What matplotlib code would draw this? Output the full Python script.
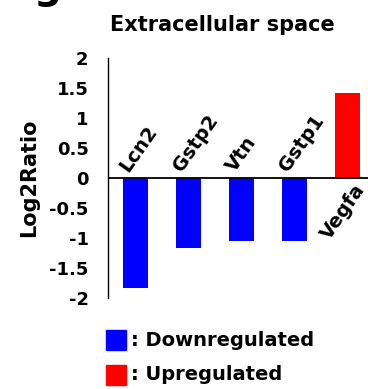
import numpy as np
import matplotlib
matplotlib.use("Agg")
import matplotlib.pyplot as plt
from matplotlib.patches import Rectangle

genes = ["Lcn2", "Gstp2", "Vtn", "Gstp1", "Vegfa"]
log2ratio = [-1.83, -1.16, -1.05, -1.05, 1.42]
yticks = [2, 1.5, 1, 0.5, 0, -0.5, -1, -1.5, -2]
ytick_labels = ["2", "1.5", "1", "0.5", "0", "-0.5", "-1", "-1.5", "-2"]
legend_labels = [": Downregulated", ": Upregulated"]

blue = "#0000ff"
red = "#ff0000"

plt.rcParams['font.family'] = ['DejaVu Sans']
plt.rcParams['font.weight'] = 'bold'

W, H = 368, 389
fig = plt.figure(figsize=(W / 100, H / 100), dpi=100)
ax = fig.add_axes([108 / W, (H - 298) / H, 1 - 108 / W, 240 / H])

x = np.arange(len(genes))
colors = [red if v > 0 else blue for v in log2ratio]
ax.bar(x, log2ratio, width=0.48, color=colors, zorder=2)
ax.axhline(0, color="black", lw=1.3, zorder=3)

ax.set_xlim(-0.52, 4.39)
ax.set_ylim(-2, 2)
ax.set_yticks(yticks)
ax.set_yticklabels(ytick_labels, fontsize=13, fontweight='bold')
ax.tick_params(axis='y', length=0, pad=14)
ax.set_xticks([])
for s in ["top", "right", "bottom"]:
    ax.spines[s].set_visible(False)
ax.spines["left"].set_linewidth(1.0)

# gene labels
for i, (g, v) in enumerate(zip(genes, log2ratio)):
    if v < 0:
        ax.text(i - 0.13, 0.08, g, rotation=55, rotation_mode='anchor',
                ha='left', va='baseline', fontsize=14, fontweight='bold')
    else:
        ax.text(i + 0.12, -0.05, g, rotation=55, rotation_mode='anchor',
                ha='right', va='top', fontsize=14, fontweight='bold')

fig.text(29 / W, 1 - 178 / H, "Log2Ratio", rotation=90, ha='center', va='center',
         fontsize=15, fontweight='bold')
fig.text(222 / W, 1 - 31 / H, "Extracellular space", ha='center', va='baseline',
         fontsize=15, fontweight='bold')
fig.text(33 / W, 1 - 7 / H, "g", ha='left', va='bottom', fontsize=28, fontweight='bold')

# legend
for j, (lab, c) in enumerate(zip(legend_labels, [blue, red])):
    y0 = 330 + j * 35
    fig.patches.append(Rectangle((106 / W, 1 - (y0 + 20) / H), 20 / W, 20 / H,
                                 transform=fig.transFigure, color=c))
    fig.text(131 / W, 1 - (y0 + 10) / H, lab, ha='left', va='center',
             fontsize=14, fontweight='bold')

fig.savefig("out.png", dpi=100)
